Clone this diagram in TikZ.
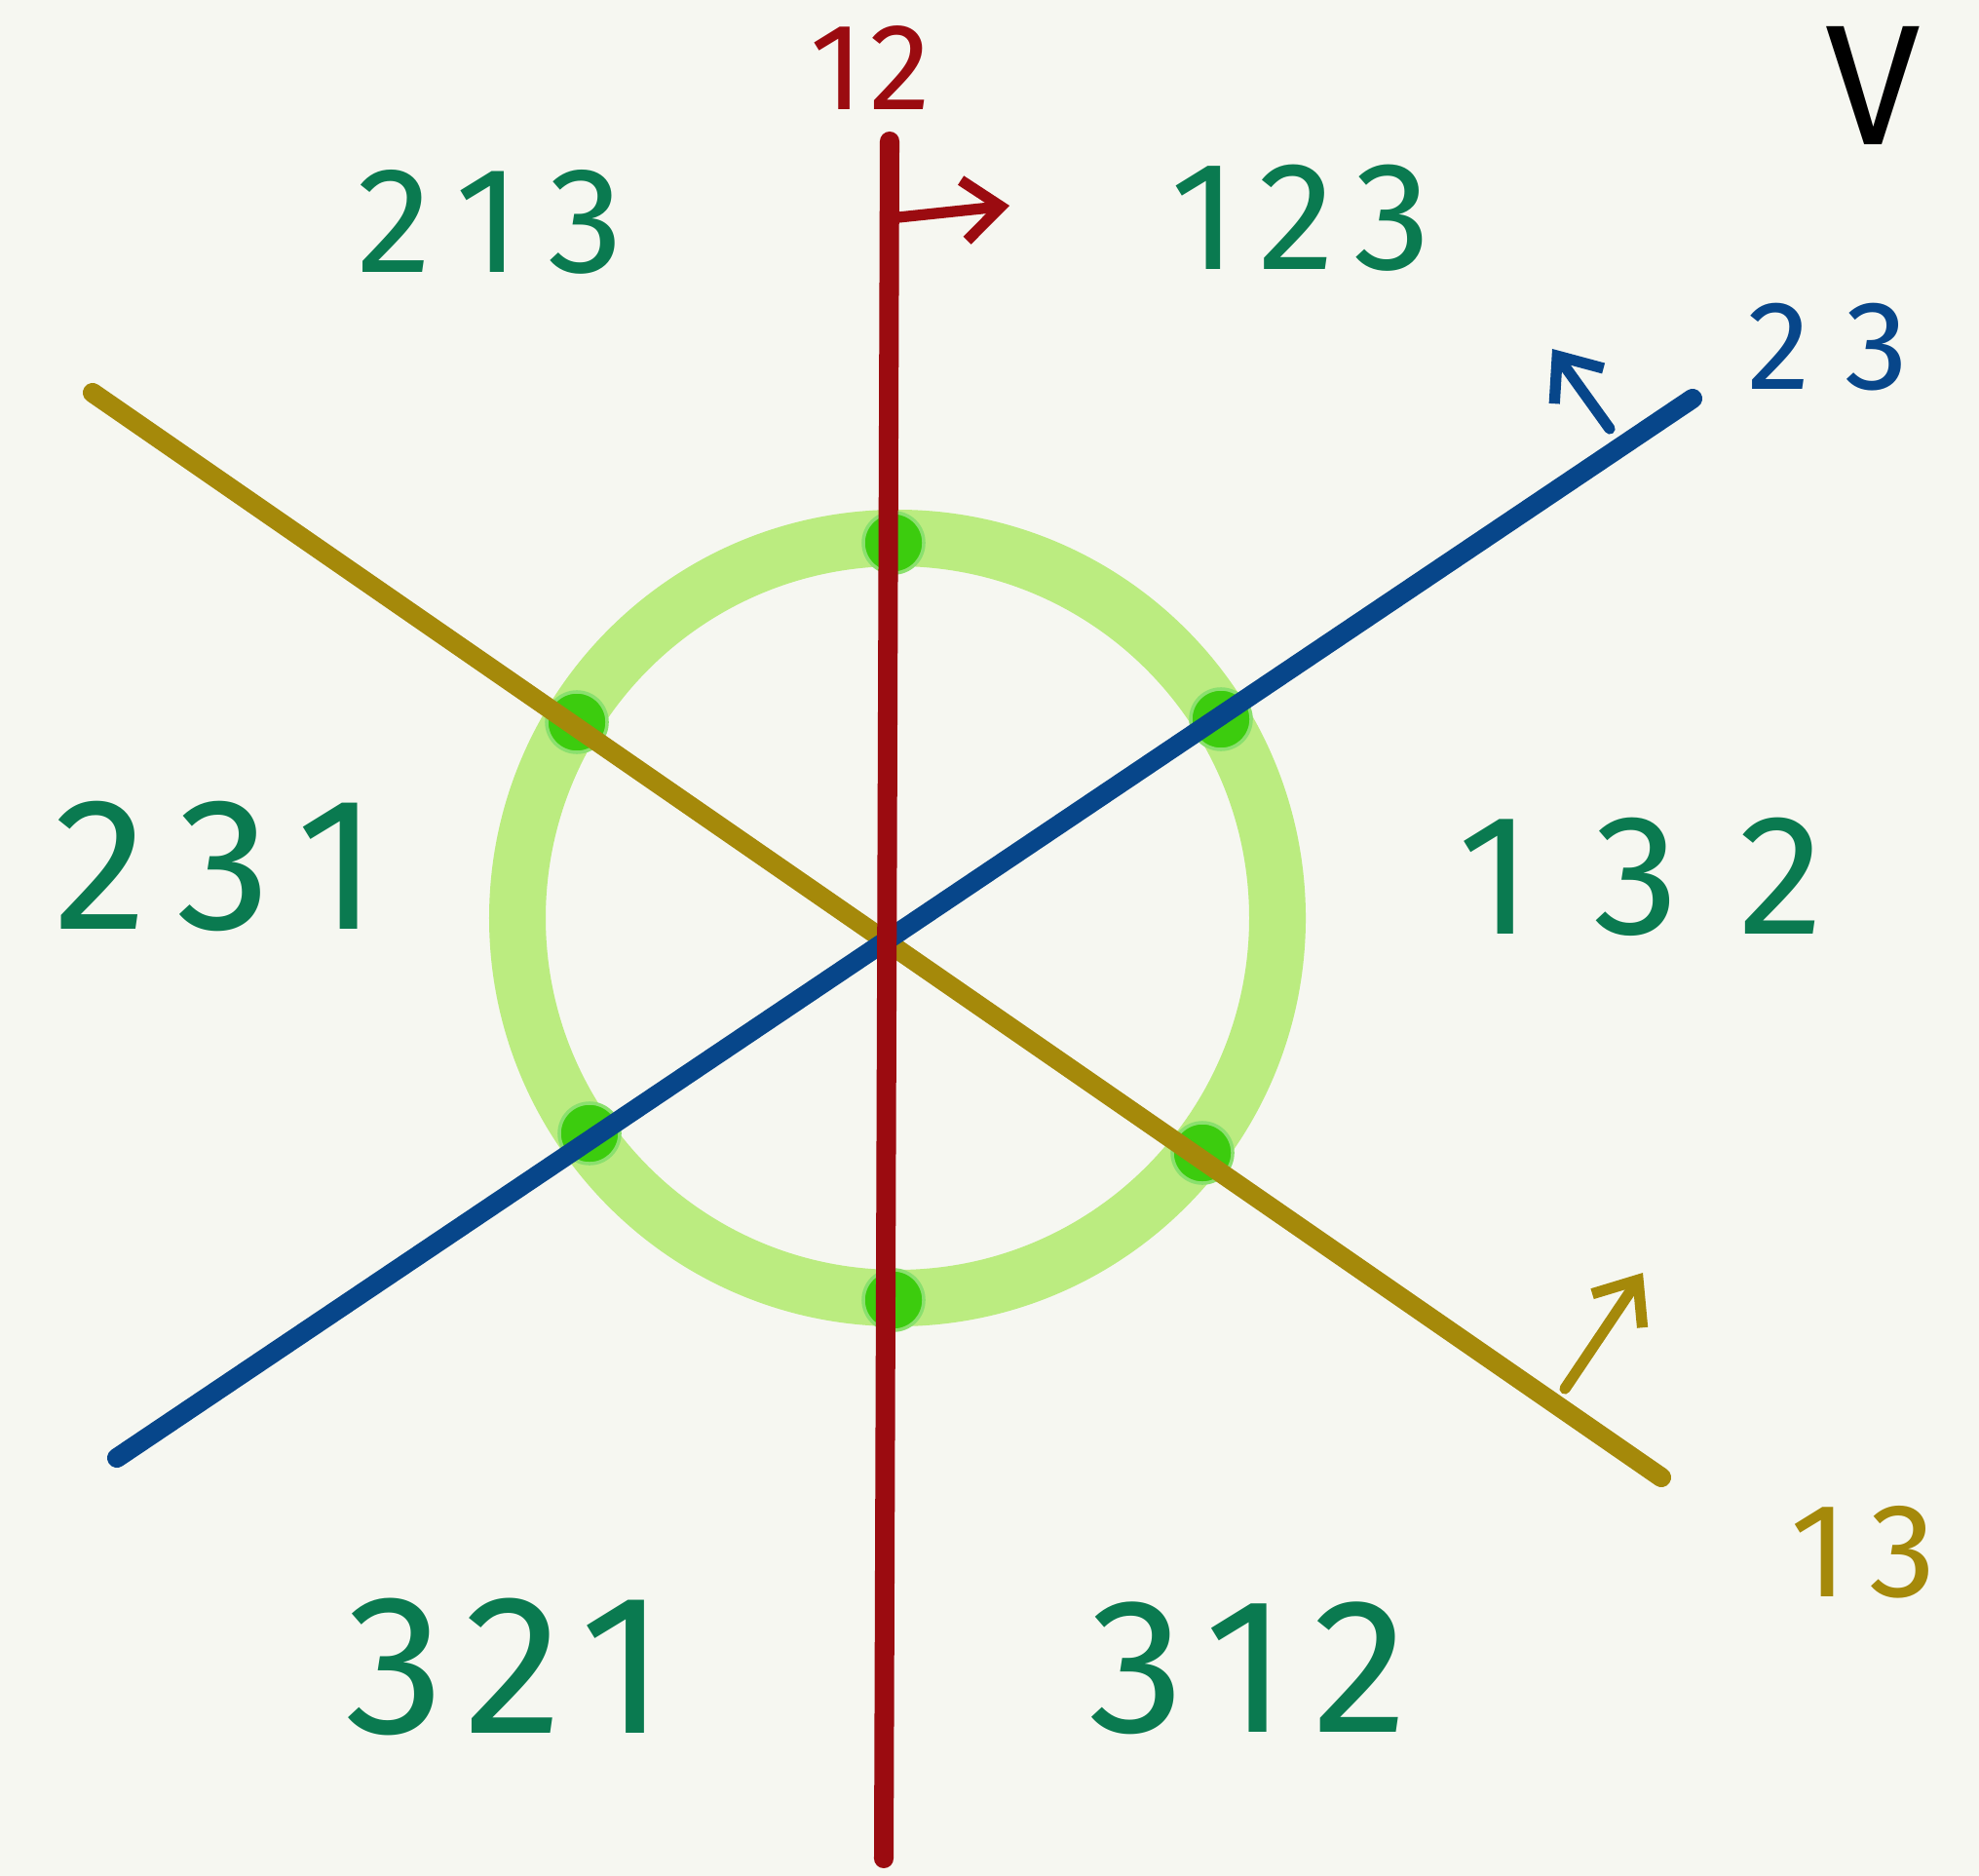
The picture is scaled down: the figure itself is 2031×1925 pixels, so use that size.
\documentclass[tikz,border=0pt]{standalone}
\usepackage{fontspec}
\setmainfont{Fira Sans}
\usetikzlibrary{arrows.meta}
\definecolor{bgc}{HTML}{F6F7F1}
\definecolor{redl}{HTML}{9B0B10}
\definecolor{bluel}{HTML}{07468A}
\definecolor{goldl}{HTML}{A5890A}
\definecolor{ringc}{HTML}{BBEC80}
\definecolor{dotc}{HTML}{3CCC0E}
\definecolor{txtc}{HTML}{0A7A50}
\newcommand{\lbl}[2]{\fontsize{#1}{#1}\selectfont\addfontfeature{LetterSpace=#2}}
\tikzset{
  mirror/.style={line width=5.7pt, line cap=round},
  normarrow/.style={line width=3.2pt, line cap=round, line join=round,
    -{Straight Barb[length=0.38cm, width=0.62cm, line width=3.2pt]}},
  perm/.style={text=txtc, inner sep=0pt},
  mlabel/.style={inner sep=0pt},
  vdot/.style={circle, fill=dotc, minimum size=0.62cm, inner sep=0pt, draw=dotc!60, line width=1pt}
}
\begin{document}
\begin{tikzpicture}[x=0.01cm,y=-0.01cm]
\fill[bgc] (0,0) rectangle (2031,1925);
\useasboundingbox (0,0) rectangle (2031,1925);
% ring
\draw[ringc, line width=16.5pt] (921,942) circle[radius=390];
% mirror line endpoints
\coordinate (r1) at (913,145);
\coordinate (r2) at (907,1907);
\coordinate (g1) at (95,403);
\coordinate (g2) at (1705,1516);
\coordinate (b1) at (120,1496);
\coordinate (b2) at (1737,409);
% dots
\node[vdot] (d1) at (917,557) {};
\node[vdot] (d2) at (592,741) {};
\node[vdot] (d3) at (1253,738) {};
\node[vdot] (d4) at (605,1163) {};
\node[vdot] (d5) at (1234,1183) {};
\node[vdot] (d6) at (917,1334) {};
% mirrors
\draw[mirror, goldl] (g1) -- (g2);
\draw[mirror, bluel] (b1) -- (b2);
\draw[mirror, redl] (r1) -- (r2);
% normal arrows
\coordinate (ra1) at (922,223);
\coordinate (ra2) at (1036,211);
\coordinate (ba1) at (1652,440);
\coordinate (ba2) at (1593,358);
\coordinate (ga1) at (1606,1425);
\coordinate (ga2) at (1686,1306);
\draw[normarrow, redl] (ra1) -- (ra2);
\draw[normarrow, bluel] (ba1) -- (ba2);
\draw[normarrow, goldl] (ga1) -- (ga2);
% mirror labels
\node[mlabel, text=redl, font=\lbl{36}{5}] (l12) at (893,70) {12};
\node[mlabel, text=bluel, font=\lbl{37}{28}] (l23) at (1876,356) {23};
\node[mlabel, text=goldl, font=\lbl{39}{16}] (l13) at (1912,1593) {13};
\node[mlabel, text=black, font=\lbl{50}{0}] (lV) at (1922,88) {V};
% permutations
\node[perm, font=\lbl{44}{18}] (p213) at (503,228) {213};
\node[perm, font=\lbl{45}{13}] (p123) at (1335,224) {123};
\node[perm, font=\lbl{55}{16}] (p231) at (222,889) {231};
\node[perm, font=\lbl{50}{36}] (p132) at (1684,900) {132};
\node[perm, font=\lbl{58}{11}] (p321) at (519,1710) {321};
\node[perm, font=\lbl{56}{13}] (p312) at (1281,1712) {312};
\end{tikzpicture}
\end{document}
